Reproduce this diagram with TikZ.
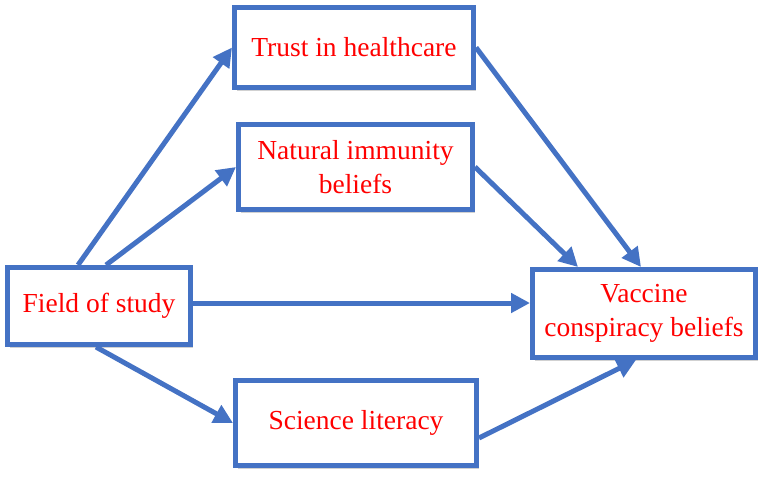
\documentclass[tikz,border=0pt]{standalone}
\usepackage{fontspec}
\setmainfont{Liberation Serif}
\usetikzlibrary{arrows.meta,shadows}
\definecolor{boxblue}{HTML}{4472C4}
\definecolor{txtred}{HTML}{FF0000}
\begin{document}
\begin{tikzpicture}[x=1pt,y=-1pt,
  box/.style={draw=boxblue, line width=5pt, fill=white, text=txtred, align=center,
    font=\fontsize{27.5}{34}\selectfont, inner sep=0pt,
    drop shadow={shadow xshift=2pt, shadow yshift=-3pt, fill=black, opacity=0.18}},
  conn/.style={draw=boxblue, line width=5pt, -{Triangle[length=19pt,width=19pt]}}]
\useasboundingbox (0,0) rectangle (768,480);
\node[box, minimum width=183pt, minimum height=77pt] (field) at (99,306) {Field of study};
\node[box, minimum width=239pt, minimum height=80pt] (trust) at (354,47.5) {Trust in healthcare};
\node[box, minimum width=234pt, minimum height=85pt] (natural) at (355.5,167) {Natural immunity\\beliefs};
\node[box, minimum width=223pt, minimum height=88pt] (vaccine) at (644,313.5) {Vaccine\\conspiracy beliefs};
\node[box, minimum width=241pt, minimum height=85pt] (science) at (356,423) {Science literacy};
\draw[conn] ([xshift=-21pt]field.north) -- (trust.west);
\draw[conn] ([xshift=7pt]field.north) -- (natural.west);
\draw[conn] ([yshift=3pt]field.east) -- ([yshift=3pt]field.east -| vaccine.west);
\draw[conn] ([xshift=-3pt]field.south) -- (science.west);
\draw[conn] (trust.east) -- ([xshift=-3pt]vaccine.north);
\draw[conn] (natural.east) -- ([xshift=-66pt]vaccine.north);
\draw[conn] ([yshift=-15pt]science.east) -- ([xshift=-8pt]vaccine.south);
\end{tikzpicture}
\end{document}
